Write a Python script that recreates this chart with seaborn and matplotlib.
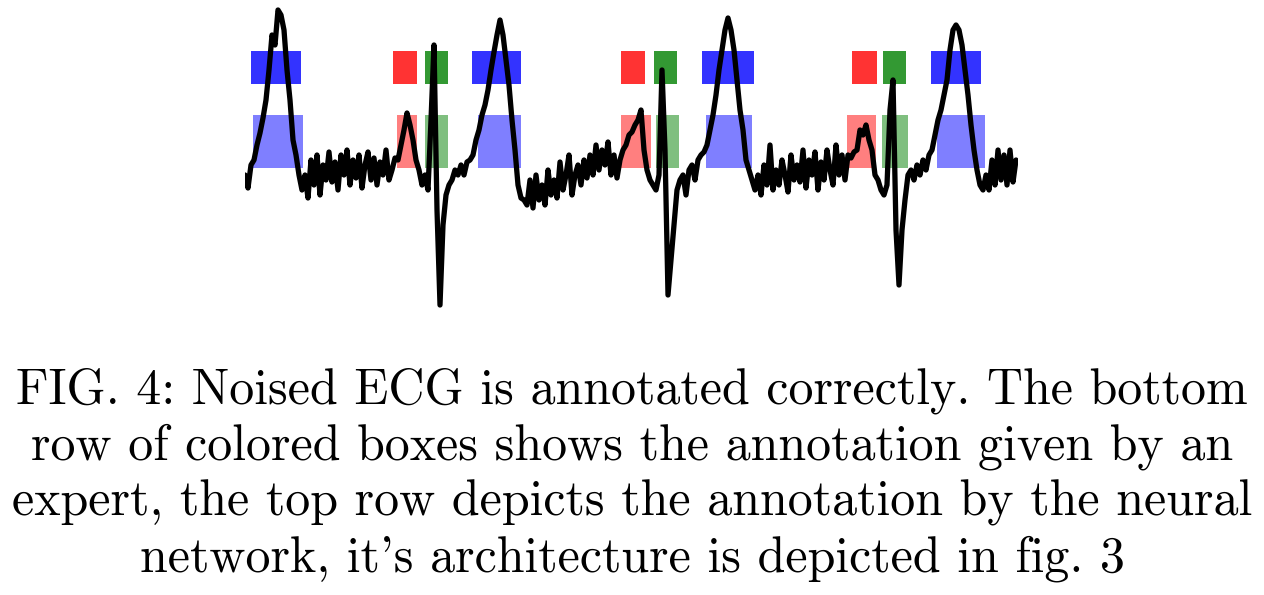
import numpy as np
import pandas as pd
import matplotlib
matplotlib.use('Agg')
import matplotlib.pyplot as plt
import seaborn as sns

# ECG amplitude, one sample every 3 time units
ecg = [
    -5, -18, 5,
    10, 25, 37, 52, 70, 100, 135, 125, 160, 155, 140, 100, 70, 30, 15, -5,
    -20, -5, -28, 10, -15, 15, -25, 5, -10, 18, -12, 8, -20, 15, -5, 20,
    -15, 10, -8, 15, -18, 5, 18, -10, 12, -15, 8, -5, 20, -10, 0,
    12, 10, 25, 40, 57, 45, 30, 10, 0, -15, -5, -20,
    50, 125, -40, -135,
    -55, -25, -15, -10, 0, -5, 5, -5, 8, 10, 15, 30, 40, 55, 65, 80, 100,
    118, 135, 150, 135, 110, 85, 50, 20, -15, -28, -30,
    -35, -10, -38, -5, -30, -15, -35, 0, -25, -10, -28, 8, -20, -5, 15, -25,
    -5, 5, -15, 10, -8, 15, -5, 25, 0, 20, 5, 28, -5, 15, -8, 10,
    20, 25, 35, 38, 45, 50, 60, 20, 0, -10, -15, -20, -5,
    100, 20, -125, -90, -55, -20, -10, -5, -25, 0, 5, -10, 10, 15, 18, 25,
    40, 55, 75, 100, 120, 140, 152, 140, 120, 90, 60, 40, 10, 0, -10,
    -20, -5, -25, 5, -15, 25, -20, 0, -15, 10, -5, -22, 15, -10, 5, -12,
    20, -18, 10, -5, 18, -20, 8, -10, 20, 0, -15, 25, -5, 15, -10,
    15, 12, 18, 20, 40, 35, 45, 30, 20, -5, -10, -20, -25, -15,
    60, 90, -60, -115, -60, -30, -5, 0, -10, 5, -5, 10, 0, 15, 20, 35, 50,
    60, 75, 90, 120, 140, 145, 140, 125, 100, 75, 45, 20, 0, -15, -20, -5,
    -20, 10, -15, 20, -10, 15, -15, 20, -12, 10,
]
step = 3

# annotation intervals (start, end) per wave class
labels = ['P', 'QRS', 'T']
net_p = [(148, 172), (376, 400), (607, 632)]
net_qrs = [(180, 203), (409, 432), (638, 661)]
net_t = [(6, 56), (227, 276), (457, 509), (686, 736)]
exp_p = [(152, 172), (376, 406), (602, 631)]
exp_qrs = [(180, 203), (411, 434), (637, 663)]
exp_t = [(8, 58), (233, 276), (461, 507), (692, 740)]

caption = [
    "FIG. 4: Noised ECG is annotated correctly. The bottom",
    "row of colored boxes shows the annotation given by an",
    "expert, the top row depicts the annotation by the neural",
    "network, it's architecture is depicted in fig. 3",
]

sns.set_theme(style='white')
plt.rcParams['font.family'] = ['cmr10', 'DejaVu Serif']

df = pd.DataFrame({'t': np.arange(len(ecg)) * step, 'mv': ecg})

fig = plt.figure(figsize=(12.64, 5.95), dpi=100)
ax = fig.add_axes([245 / 1264, 285 / 595, 773 / 1264, 310 / 595])

colors = {'P': 'red', 'QRS': 'green', 'T': 'blue'}
rows = [
    ({'P': net_p, 'QRS': net_qrs, 'T': net_t}, 102.5, 33, 0.8),
    ({'P': exp_p, 'QRS': exp_qrs, 'T': exp_t}, 28.5, 53, 0.5),
]
for boxes, yc, h, alpha in rows:
    for lab in labels:
        starts = [s for s, e in boxes[lab]]
        widths = [e - s for s, e in boxes[lab]]
        ax.barh([yc] * len(starts), widths, left=starts, height=h,
                color=colors[lab], alpha=alpha, linewidth=0, zorder=1)

sns.lineplot(data=df, x='t', y='mv', color='black', lw=3.8, ax=ax, zorder=3)
ax.set_xlim(0, 773)
ax.set_ylim(-140, 170)
ax.axis('off')

for i, line in enumerate(caption):
    fig.text(632 / 1264, 1 - (404 + 56 * i) / 595, line, ha='center',
             va='baseline', fontsize=36, color='black')

fig.savefig('out.png', dpi=100)
